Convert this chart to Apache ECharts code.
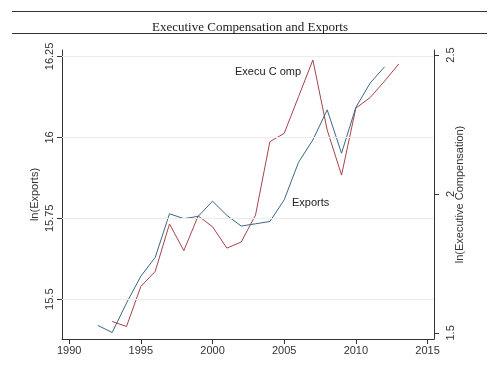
<!DOCTYPE html>
<html>
<head>
<meta charset="utf-8">
<script src="https://cdn.jsdelivr.net/npm/echarts@6/dist/echarts.min.js"></script>
<style>html,body{margin:0;padding:0;background:#fff}#c{width:500px;height:366px}</style>
</head>
<body>
<div id="c"></div>
<script>
const exportYears = [1992,1993,1994,1995,1996,1997,1998,1999,2000,2001,2002,2003,2004,2005,2006,2007,2008,2009,2010,2011,2012];
const lnExports = [15.419,15.397,15.488,15.571,15.629,15.764,15.749,15.756,15.803,15.759,15.726,15.733,15.740,15.807,15.923,15.992,16.085,15.951,16.093,16.168,16.218];
const compYears = [1993,1994,1995,1996,1997,1998,1999,2000,2001,2002,2003,2004,2005,2006,2007,2008,2009,2010,2011,2012,2013];
const lnExecComp = [1.541,1.523,1.667,1.721,1.892,1.796,1.921,1.882,1.805,1.827,1.924,2.188,2.218,2.350,2.482,2.230,2.068,2.309,2.347,2.406,2.468];
const xTicks = [1990,1995,2000,2005,2010,2015];
const leftTicks = [15.5,15.75,16,16.25];
const rightTicks = [1.5,2,2.5];

const font = 'Liberation Sans';
const chart = echarts.init(document.getElementById('c'), null, {renderer:'canvas'});
chart.setOption({
  animation:false,
  backgroundColor:'#fff',
  title:{text:'Executive Compensation and Exports',left:'center',top:16,
    textStyle:{fontFamily:'Liberation Serif',fontSize:13,fontWeight:'normal',color:'#222'}},
  graphic:[
    {type:'line',shape:{x1:12,y1:11.5,x2:487,y2:11.5},style:{stroke:'#333',lineWidth:1}},
    {type:'line',shape:{x1:12,y1:33.5,x2:487,y2:33.5},style:{stroke:'#333',lineWidth:1}},
    {type:'text',left:235,top:66,style:{text:'Execu C omp',font:'11px Liberation Sans',fill:'#222'}},
    {type:'text',left:292,top:197,style:{text:'Exports',font:'11px Liberation Sans',fill:'#222'}}
  ],
  grid:{left:62,right:66,top:50,bottom:27},
  xAxis:{type:'value',min:1989.5,max:2015.45,
    axisLine:{show:true,lineStyle:{color:'#333',width:1}},
    axisTick:{show:true,length:5,customValues:xTicks,lineStyle:{color:'#333'}},
    axisLabel:{customValues:xTicks,formatter:v=>String(Math.round(v)),fontFamily:font,fontSize:11,color:'#333',margin:6},
    splitLine:{show:false}},
  yAxis:[
    {type:'value',min:15.377,max:16.27,position:'left',
      name:'ln(Exports)',nameLocation:'middle',nameGap:22,nameRotate:90,nameMoveOverlap:false,
      nameTextStyle:{fontFamily:font,fontSize:11,color:'#333'},
      axisLine:{show:true,lineStyle:{color:'#333',width:1}},
      axisTick:{show:true,length:5,customValues:leftTicks,lineStyle:{color:'#333'}},
      axisLabel:{customValues:leftTicks,rotate:90,fontFamily:font,fontSize:11,color:'#333',margin:7},
      splitLine:{show:false}},
    {type:'value',min:1.478,max:2.518,position:'right',
      name:'ln(Executive Compensation)',nameLocation:'middle',nameGap:20,nameRotate:90,nameMoveOverlap:false,
      nameTextStyle:{fontFamily:font,fontSize:11,color:'#333'},
      axisLine:{show:true,lineStyle:{color:'#333',width:1}},
      axisTick:{show:true,length:5,customValues:rightTicks,lineStyle:{color:'#333'}},
      axisLabel:{customValues:rightTicks,rotate:90,fontFamily:font,fontSize:11,color:'#333',margin:11},
      splitLine:{show:false}}
  ],
  series:[
    {type:'line',name:'Exports',yAxisIndex:0,symbol:'none',
      data:exportYears.map((y,i)=>[y,lnExports[i]]),
      lineStyle:{color:'#3d6787',width:1},
      markLine:{silent:true,symbol:'none',label:{show:false},
        lineStyle:{color:'#ececec',type:'solid',width:1},
        data:leftTicks.map(v=>({yAxis:v}))},
      z:3},
    {type:'line',name:'Execu Comp',yAxisIndex:1,symbol:'none',
      data:compYears.map((y,i)=>[y,lnExecComp[i]]),
      lineStyle:{color:'#a6434c',width:1},z:2}
  ]
});
</script>
</body>
</html>
